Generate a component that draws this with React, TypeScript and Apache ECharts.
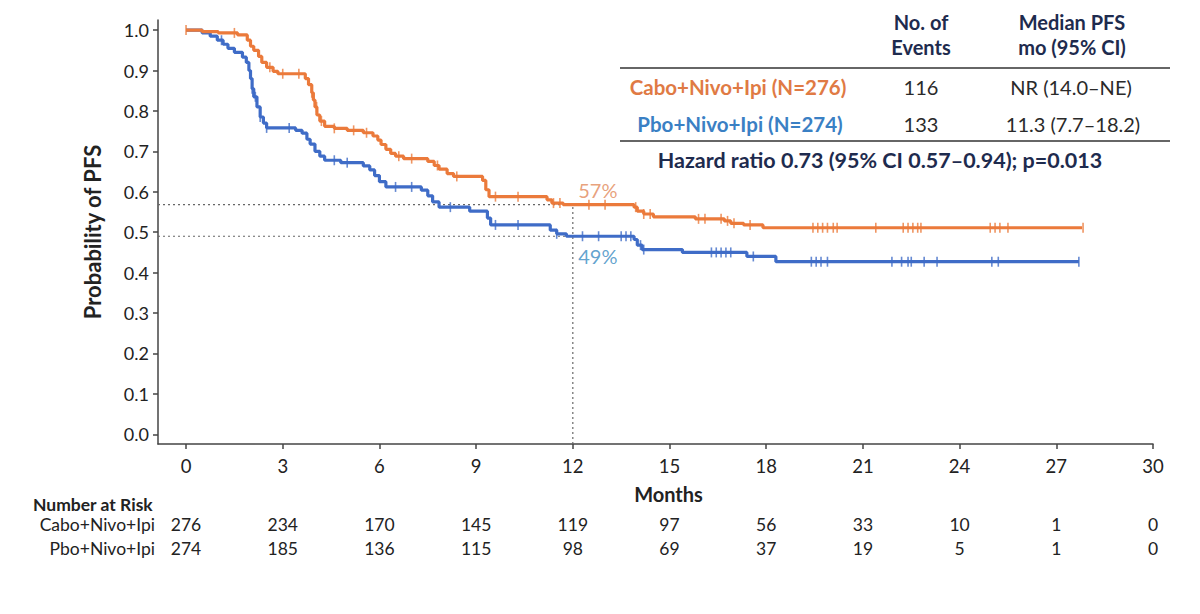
import React, { useEffect, useRef } from "react";
import * as echarts from "echarts";

// ---- data ----
const X_TICKS = [0, 3, 6, 9, 12, 15, 18, 21, 24, 27, 30];
const Y_TICKS = [0, 0.1, 0.2, 0.3, 0.4, 0.5, 0.6, 0.7, 0.8, 0.9, 1.0];
const AT_RISK_CABO = [276, 234, 170, 145, 119, 97, 56, 33, 10, 1, 0];
const AT_RISK_PBO = [274, 185, 136, 115, 98, 69, 37, 19, 5, 1, 0];

const CABO_CURVE: [number, number][] = [
  [0, 1.0], [0.5, 0.996], [1.0, 0.993], [1.6, 0.988], [1.9, 0.975], [2.0, 0.96],
  [2.1, 0.95], [2.25, 0.935], [2.35, 0.92], [2.5, 0.908], [2.7, 0.898], [2.85, 0.892],
  [3.7, 0.88], [3.8, 0.865], [3.9, 0.845], [3.95, 0.827], [4.0, 0.81], [4.06, 0.79],
  [4.15, 0.775], [4.3, 0.762], [4.6, 0.757], [5.0, 0.752], [5.5, 0.746], [5.8, 0.738],
  [5.95, 0.728], [6.05, 0.717], [6.2, 0.705], [6.35, 0.695], [6.5, 0.688], [6.75, 0.682],
  [7.5, 0.675], [7.7, 0.665], [7.85, 0.656], [8.1, 0.645], [8.3, 0.638], [9.2, 0.628],
  [9.3, 0.605], [9.4, 0.588], [11.2, 0.58], [11.35, 0.572], [11.7, 0.568], [13.9, 0.562],
  [14.0, 0.552], [14.2, 0.545], [14.5, 0.538], [15.8, 0.533], [16.7, 0.528], [16.9, 0.522],
  [17.3, 0.518], [17.9, 0.511], [27.8, 0.511],
];
const PBO_CURVE: [number, number][] = [
  [0, 1.0], [0.5, 0.993], [0.75, 0.985], [0.97, 0.975], [1.15, 0.965], [1.3, 0.955],
  [1.5, 0.945], [1.75, 0.933], [1.87, 0.92], [1.95, 0.9], [2.0, 0.88], [2.05, 0.855],
  [2.1, 0.835], [2.2, 0.81], [2.3, 0.785], [2.4, 0.77], [2.5, 0.758], [3.4, 0.752],
  [3.6, 0.745], [3.75, 0.73], [3.85, 0.718], [4.0, 0.7], [4.15, 0.688], [4.3, 0.678],
  [4.8, 0.672], [5.5, 0.664], [5.7, 0.654], [5.85, 0.64], [6.0, 0.625], [6.2, 0.612],
  [7.3, 0.604], [7.5, 0.59], [7.65, 0.575], [7.85, 0.562], [8.8, 0.552], [9.35, 0.535],
  [9.45, 0.518], [11.3, 0.505], [11.5, 0.496], [11.8, 0.49], [13.9, 0.482], [14.0, 0.468],
  [14.15, 0.457], [15.4, 0.45], [17.4, 0.44], [18.3, 0.427], [27.7, 0.427],
];
const CABO_CENSOR = [
  0, 1.5, 2.6, 3.0, 3.5, 3.9, 4.05, 4.2, 4.6, 5.2, 5.6, 6.6, 7.0, 7.8, 8.4, 9.6, 10.3,
  11.4, 11.6, 12.5, 13.0, 13.95, 14.2, 14.4, 15.9, 16.1, 16.6, 16.8, 17.0, 17.5,
  19.45, 19.6, 19.75, 19.9, 20.08, 20.2, 21.4, 22.25, 22.4, 22.55, 22.7, 22.8,
  24.95, 25.1, 25.25, 25.5, 27.83,
];
const PBO_CENSOR = [
  1.1, 2.05, 2.15, 2.3, 2.5, 3.2, 4.6, 5.0, 6.5, 7.0, 8.2, 9.6, 10.3, 11.5, 12.3,
  12.8, 13.5, 13.65, 13.8, 14.1, 14.2, 16.3, 16.45, 16.6, 16.75, 16.9, 17.6,
  19.4, 19.55, 19.7, 19.9, 21.9, 22.2, 22.4, 22.5, 22.9, 23.3, 25.0, 25.2, 27.7,
];
const MILESTONE_MONTH = 12;
const CABO_AT_12 = 0.568;
const PBO_AT_12 = 0.49;

const ORANGE = "#EB7A3B";
const BLUE = "#3F6CC7";
const NAVY = "#1E2B4E";
const FONT = "Lato, 'Open Sans', sans-serif";
const X_MIN = -0.87;
const Y_MIN = -0.024;

function survAt(curve: [number, number][], t: number) {
  let s = curve[0][1];
  for (const [ti, si] of curve) {
    if (ti <= t) s = si;
    else break;
  }
  return s;
}

export default function App() {
  const ref = useRef<HTMLDivElement>(null);
  useEffect(() => {
    if (!ref.current) return;
    const chart = echarts.init(ref.current, undefined, { renderer: "svg" });
    const dotted = { color: "#666", width: 1.2, type: [2, 3] as any };
    const xBase = {
      type: "value" as const,
      min: X_MIN,
      max: 30,
      gridIndex: 0,
      splitLine: { show: false },
    };
    const atRiskAxis = (arr: number[], offset: number) => ({
      ...xBase,
      position: "bottom",
      offset,
      axisLine: { show: false, onZero: false },
      axisTick: { show: false },
      axisLabel: {
        customValues: X_TICKS,
        margin: 7,
        fontSize: 17.5,
        fontFamily: FONT,
        color: "#222",
        formatter: (v: number) => String(arr[X_TICKS.indexOf(Math.round(v))] ?? ""),
      },
    });
    const txt = (x: number, y: number, text: string, font: string, fill: string, align = "center") => ({
      type: "text",
      x,
      y,
      style: { text, font, fill, align, verticalAlign: "middle" },
    });
    const option: any = {
      animation: false,
      grid: { left: 158, right: 47, top: 20, bottom: 170, containLabel: false, outerBoundsMode: "none" },
      xAxis: [
        {
          ...xBase,
          position: "bottom",
          axisLine: { show: true, onZero: false, lineStyle: { color: "#444", width: 1.5 } },
          axisTick: { show: true, customValues: X_TICKS, length: 5, lineStyle: { color: "#444", width: 1.5 } },
          axisLabel: {
            customValues: X_TICKS,
            margin: 12,
            fontSize: 18.5,
            fontFamily: FONT,
            color: "#222",
          },
          name: "Months",
          nameLocation: "middle",
          nameGap: 40,
          nameTextStyle: { fontSize: 20, fontWeight: "bold", fontFamily: FONT, color: "#222", padding: [0, 0, 0, 26] },
        },
        atRiskAxis(AT_RISK_CABO, 64),
        atRiskAxis(AT_RISK_PBO, 88),
      ],
      yAxis: {
        type: "value",
        min: Y_MIN,
        max: 1.025,
        splitLine: { show: false },
        axisLine: { show: true, onZero: false, lineStyle: { color: "#444", width: 1.5 } },
        axisTick: { show: true, customValues: Y_TICKS, length: 5, inside: false, lineStyle: { color: "#444", width: 1.5 } },
        axisLabel: {
          customValues: Y_TICKS,
          margin: 9,
          fontSize: 18,
          fontFamily: FONT,
          color: "#222",
          formatter: (v: number) => v.toFixed(1),
        },
        name: "Probability of PFS",
        nameLocation: "middle",
        nameGap: 55,
        nameTextStyle: { fontSize: 22, fontWeight: "bold", fontFamily: FONT, color: "#222" },
      },
      series: [
        {
          type: "line",
          data: [[X_MIN, CABO_AT_12], [MILESTONE_MONTH, CABO_AT_12]],
          symbol: "none",
          lineStyle: dotted,
          silent: true,
          z: 1,
        },
        {
          type: "line",
          data: [[X_MIN, PBO_AT_12], [MILESTONE_MONTH, PBO_AT_12]],
          symbol: "none",
          lineStyle: dotted,
          silent: true,
          z: 1,
        },
        {
          type: "line",
          data: [[MILESTONE_MONTH, Y_MIN], [MILESTONE_MONTH, CABO_AT_12]],
          symbol: "none",
          lineStyle: dotted,
          silent: true,
          z: 1,
        },
        {
          type: "line",
          step: "end",
          data: PBO_CURVE,
          symbol: "none",
          lineStyle: { color: BLUE, width: 3.2 },
          z: 3,
        },
        {
          type: "line",
          step: "end",
          data: CABO_CURVE,
          symbol: "none",
          lineStyle: { color: ORANGE, width: 3.2 },
          z: 3,
        },
        {
          type: "scatter",
          data: PBO_CENSOR.map((t) => [t, survAt(PBO_CURVE, t)]),
          symbol: "rect",
          symbolSize: [1.6, 10],
          itemStyle: { color: BLUE },
          z: 4,
        },
        {
          type: "scatter",
          data: CABO_CENSOR.map((t) => [t, survAt(CABO_CURVE, t)]),
          symbol: "rect",
          symbolSize: [1.6, 10],
          itemStyle: { color: ORANGE },
          z: 4,
        },
        {
          type: "scatter",
          data: [[MILESTONE_MONTH, CABO_AT_12]],
          symbolSize: 0,
          label: {
            show: true,
            formatter: "57%",
            position: "top",
            distance: 5,
            offset: [25, 0],
            fontSize: 20,
            fontFamily: FONT,
            color: "#E2895A",
          },
          z: 5,
        },
        {
          type: "scatter",
          data: [[MILESTONE_MONTH, PBO_AT_12]],
          symbolSize: 0,
          label: {
            show: true,
            formatter: "49%",
            position: "bottom",
            distance: 10,
            offset: [25, 0],
            fontSize: 20,
            fontFamily: FONT,
            color: "#3A8BC2",
          },
          z: 5,
        },
      ],
      graphic: [
        txt(921, 22, "No. of", `bold 20px ${FONT}`, NAVY),
        txt(921, 47, "Events", `bold 20px ${FONT}`, NAVY),
        txt(1072, 22, "Median PFS", `bold 20px ${FONT}`, NAVY),
        txt(1072, 47, "mo (95% CI)", `bold 20px ${FONT}`, NAVY),
        { type: "line", shape: { x1: 620, y1: 68, x2: 1170, y2: 68 }, style: { stroke: "#333", lineWidth: 1.5 } },
        txt(738, 87, "Cabo+Nivo+Ipi (N=276)", `bold 20.5px ${FONT}`, "#E07A44"),
        txt(921, 87, "116", `20px ${FONT}`, "#2a2a2a"),
        txt(1071, 87, "NR (14.0–NE)", `20px ${FONT}`, "#2a2a2a"),
        txt(740, 124, "Pbo+Nivo+Ipi (N=274)", `bold 20.5px ${FONT}`, "#3A80C4"),
        txt(921, 124, "133", `20px ${FONT}`, "#2a2a2a"),
        txt(1073, 124, "11.3 (7.7–18.2)", `20px ${FONT}`, "#2a2a2a"),
        { type: "line", shape: { x1: 620, y1: 141, x2: 1170, y2: 141 }, style: { stroke: "#333", lineWidth: 1.5 } },
        txt(880, 160, "Hazard ratio 0.73 (95% CI 0.57–0.94); p=0.013", `bold 21.5px ${FONT}`, NAVY),
        txt(33, 504, "Number at Risk", `bold 17.5px ${FONT}`, "#222", "left"),
        txt(155, 524, "Cabo+Nivo+Ipi", `17.5px ${FONT}`, "#222", "right"),
        txt(155, 548, "Pbo+Nivo+Ipi", `17.5px ${FONT}`, "#222", "right"),
      ],
    };
    chart.setOption(option);
    return () => chart.dispose();
  }, []);
  return (
    <div
      ref={ref}
      style={{ position: "absolute", left: 0, top: 0, width: 1200, height: 614, background: "#fff" }}
    />
  );
}
